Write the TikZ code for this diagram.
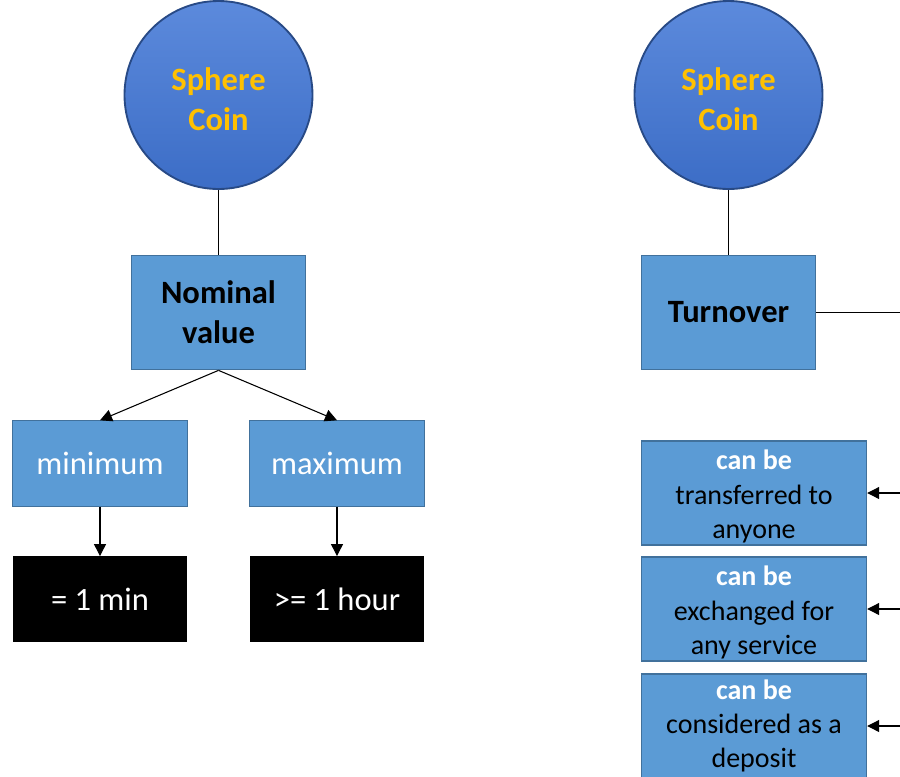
\documentclass[tikz,border=0pt]{standalone}
\usepackage{fontspec}
\setmainfont{Carlito}
\usetikzlibrary{arrows.meta}
\definecolor{boxblue}{HTML}{5B9BD5}
\definecolor{boxedge}{HTML}{41719C}
\definecolor{coinyellow}{HTML}{FFC000}
\definecolor{cointop}{HTML}{5C8ADC}
\definecolor{coinbot}{HTML}{3C6DC6}
\definecolor{coinedge}{HTML}{284A86}
\newcommand{\topstrut}[1]{\rule{0pt}{#1}}
\tikzset{
  coin/.style={circle, minimum size=141pt, inner sep=0pt, draw=coinedge, line width=1.4pt,
    top color=cointop, bottom color=coinbot, text=coinyellow, align=center,
    font=\fontsize{24.4pt}{29.8pt}\selectfont\bfseries},
  bluebox/.style={rectangle, draw=boxedge, line width=0.8pt, fill=boxblue, align=center,
    minimum width=131pt, minimum height=86pt, inner sep=0pt,
    font=\fontsize{24.4pt}{29.8pt}\selectfont},
  subbox/.style={rectangle, draw=boxedge, line width=0.8pt, fill=boxblue, align=center,
    minimum width=131pt, minimum height=64pt, inner sep=0pt, text=white,
    font=\fontsize{24.4pt}{29.8pt}\selectfont},
  blackbox/.style={rectangle, fill=black, align=center, text=white,
    minimum width=131pt, minimum height=64pt, inner sep=0pt,
    font=\fontsize{24.4pt}{29.8pt}\selectfont},
  propbox/.style={rectangle, draw=boxedge, line width=0.8pt, fill=boxblue, align=center,
    minimum width=169pt, minimum height=78pt, inner sep=0pt,
    font=\fontsize{21pt}{25.6pt}\selectfont},
  link/.style={draw=black, line width=0.8pt},
  arrowlink/.style={draw=black, line width=0.8pt, -{Triangle[length=9pt,width=9pt]}},
}
\begin{document}
\begin{tikzpicture}[x=0.75pt,y=-0.75pt]
\useasboundingbox (0,0) rectangle (900,776);
\clip (0,0) rectangle (900,776);
% left tree
\node[coin] (coinL) at (218.5,95) {\topstrut{23pt}Sphere\\Coin};
\node[bluebox, font=\fontsize{24.4pt}{29.8pt}\selectfont\bfseries] (nominal) at (218.5,312.5) {Nominal\\value};
\node[subbox] (min) at (100,463.5) {minimum};
\node[subbox] (max) at (337,463.5) {maximum};
\node[blackbox] (minval) at (100,599) {= 1 min};
\node[blackbox] (maxval) at (337,599) {>= 1 hour};
\draw[link] (coinL.south) -- (nominal.north);
\draw[arrowlink] (nominal.south) -- (min.north);
\draw[arrowlink] (nominal.south) -- (max.north);
\draw[arrowlink] (min.south) -- (minval.north);
\draw[arrowlink] (max.south) -- (maxval.north);
% right tree
\node[coin] (coinR) at (728.5,95) {\topstrut{23pt}Sphere\\Coin};
\node[bluebox, font=\fontsize{24.4pt}{29.8pt}\selectfont\bfseries] (turnover) at (728.5,312.5) {Turnover};
\coordinate (outT) at (905,312.5);
\draw[link] (coinR.south) -- (turnover.north);
\draw[link] (turnover.east) -- (outT);
\node[propbox] (p1) at (754,493) {\topstrut{20pt}\textbf{\textcolor{white}{can be}}\\transferred to\\anyone};
\node[propbox] (p2) at (754,609) {\topstrut{20pt}\textbf{\textcolor{white}{can be}}\\exchanged for\\any service};
\node[propbox] (p3) at (754,726) {\textbf{\textcolor{white}{can be}}\\considered as a\\deposit};
\coordinate (in1) at (905,493);
\coordinate (in2) at (905,609);
\coordinate (in3) at (905,726);
\draw[arrowlink] (in1) -- (p1.east);
\draw[arrowlink] (in2) -- (p2.east);
\draw[arrowlink] (in3) -- (p3.east);
\end{tikzpicture}
\end{document}
